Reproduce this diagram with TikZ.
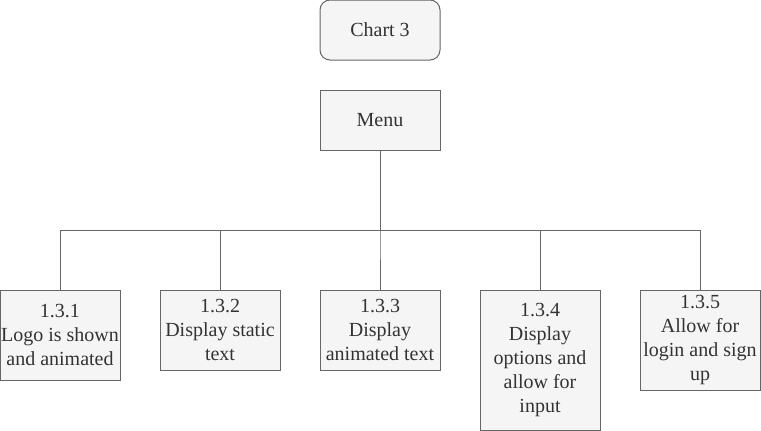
\documentclass[tikz,border=0pt]{standalone}
\usepackage{fontspec}
\setmainfont{Liberation Serif}
\usepackage{xcolor}
\definecolor{boxfill}{HTML}{F5F5F5}
\definecolor{boxline}{HTML}{666666}
\definecolor{boxtext}{HTML}{333333}
\tikzset{
  box/.style={draw=boxline, fill=boxfill, text=boxtext, line width=1pt,
    minimum width=120pt, inner sep=1pt, outer sep=0pt, align=center,
    font=\rmfamily\fontsize{20}{24}\selectfont},
  leaf/.style={box, anchor=north},
  link/.style={draw=boxline, line width=1pt}
}
\begin{document}
\begin{tikzpicture}[x=1pt,y=1pt]
\useasboundingbox (0,0) rectangle (761,-431);
\node[box, rounded corners=10pt, minimum height=60pt] (chart) at (380,-30) {Chart 3};
\node[box, minimum height=60pt] (menu) at (380,-120) {Menu};
\foreach \n/\x/\h/\t in {1/60/90/{1.3.1\\Logo is shown\\and animated},
    2/220/80/{1.3.2\\Display static\\text},
    3/380/80/{1.3.3\\Display\\animated text},
    4/540/140/{1.3.4\\Display\\options and\\allow for\\input},
    5/700/100/{1.3.5\\Allow for\\login and sign\\up}}
{
  \node[leaf, minimum height=\h pt] (c\n) at (\x,-290) {\t};
  \draw[link] (menu.south) -- ++(0,-80) -| (c\n.north);
}
\end{tikzpicture}
\end{document}
